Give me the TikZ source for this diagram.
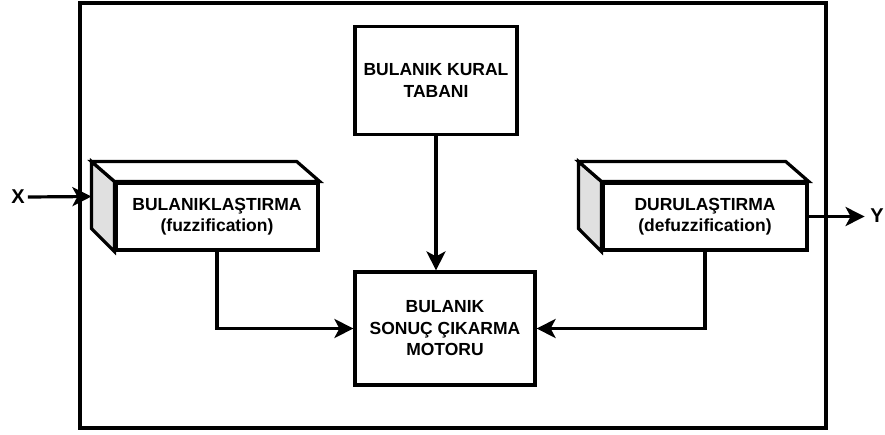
\documentclass[tikz,border=0pt]{standalone}
\usepackage{fontspec}
\setmainfont{Liberation Sans}
\usetikzlibrary{positioning, calc, arrows.meta}
\definecolor{sidegray}{HTML}{E0E0E0}
\tikzset{
	box/.style={
			draw=black,
			line width=3.2pt,
			fill=white,
			align=center,
			inner sep=0pt,
			font=\fontsize{17.5}{21.5}\selectfont\bfseries
		},
	face/.style={
			draw=black,
			line width=3.2pt,
			line join=miter
		},
	link/.style={
			line width=3.2pt,
			-{Stealth[length=19pt,width=19pt,inset=5pt]}
		},
	label/.style={
			font=\fontsize{20}{22}\selectfont\bfseries,
			inner sep=0pt
		}
}

\begin{document}
\begin{tikzpicture}[x=1pt, y=-1pt]
				\useasboundingbox (0,0) rectangle (885,434);
				\node[box, fill=none, minimum width=746, minimum height=425] at (453,215.5) (sistem) {};
				\node[box, minimum width=162, minimum height=108] at (436,80.5) (kural) {BULANIK KURAL\\TABANI};
				\node[box, minimum width=180, minimum height=113] at (445,328.5) (motor) {BULANIK\\SONUÇ ÇIKARMA\\MOTORU};
				% kuboidler
				\node[box, minimum width=202, minimum height=67] at (217,216.5) (fuzz) {BULANIKLAŞTIRMA\\(fuzzification)};
				\draw[face, fill=sidegray] (fuzz.north west) -- ++(-23,-20) -- ++(0,67) -- (fuzz.south west) -- cycle;
				\draw[face, fill=white] (fuzz.north west) -- ++(-23,-20) -- ($(fuzz.north east)+(-23,-20)$) -- (fuzz.north east) -- cycle;
				\coordinate (fuzzin) at ($(fuzz.west)+(-23,-20)$);
				\node[box, minimum width=204, minimum height=67] at (705,216.5) (defuzz) {DURULAŞTIRMA\\(defuzzification)};
				\draw[face, fill=sidegray] (defuzz.north west) -- ++(-23,-20) -- ++(0,67) -- (defuzz.south west) -- cycle;
				\draw[face, fill=white] (defuzz.north west) -- ++(-23,-20) -- ($(defuzz.north east)+(-23,-20)$) -- (defuzz.north east) -- cycle;
				% girdi ve cikti
				\node[label] at (18,197) (x) {X};
				\node[label] at (877,216) (y) {Y};
				\draw[link] (x.east) ++(3,0) -- (fuzzin);
				\draw[link] (defuzz.east) -- ++(56,0);
				\draw[link] (kural.south) -- (kural.south |- motor.north);
				\draw[link] (fuzz.south) |- (motor.west);
				\draw[link] (defuzz.south) |- (motor.east);
			\end{tikzpicture}
\end{document}
